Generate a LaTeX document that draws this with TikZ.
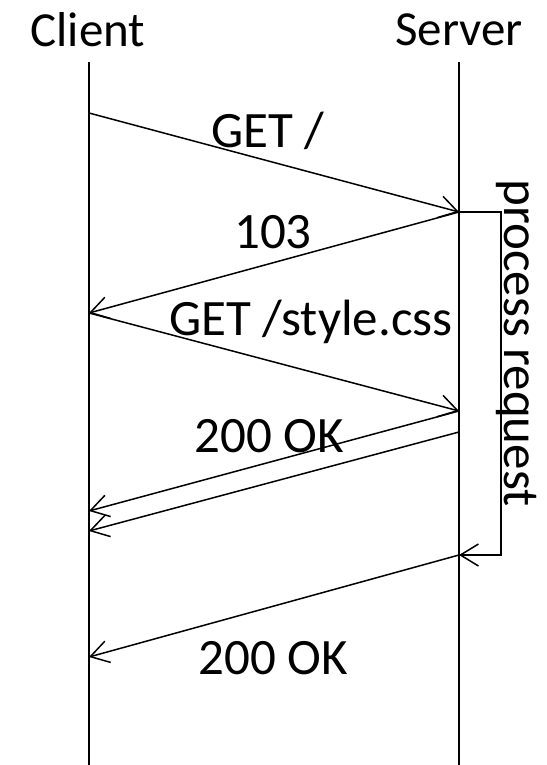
\documentclass[tikz,border=0pt]{standalone}
\usepackage{fontspec}
\setmainfont{Carlito}
\usetikzlibrary{arrows.meta}
\tikzstyle{party}=[
	font=\fontsize{49}{53}\selectfont,
	inner sep=0pt
]
\tikzstyle{msglabel}=[
	font=\fontsize{51}{55}\selectfont,
	inner sep=0pt
]
\tikzstyle{lifeline}=[
	line width=1.5pt
]
\tikzstyle{message}=[
	line width=1.5pt,
	-{Straight Barb[length=18pt,width=22pt,line width=1.5pt]}
]

\begin{document}
\begin{tikzpicture}[x=1pt,y=-1pt]
\useasboundingbox (0,0) rectangle (546,765);
% parties
\node [party] (Client) at (88,30) {Client};
\node [party] (Server) at (459,30) {Server};
% lifelines
\coordinate (ClientTop) at (89,62);
\coordinate (ClientEnd) at (89,765);
\coordinate (ServerTop) at (459,62);
\coordinate (ServerEnd) at (459,765);
\draw [lifeline] (ClientTop) -- (ClientEnd);
\draw [lifeline] (ServerTop) -- (ServerEnd);
% message points
\coordinate (GetSent) at (89,113);
\coordinate (GetRecv) at (459,212);
\coordinate (EarlyRecv) at (89,313);
\coordinate (CssRecv) at (459,411);
\coordinate (CssSent) at (459,432);
\coordinate (CssOk) at (89,511);
\coordinate (CssOkB) at (89,531);
\coordinate (Done) at (459,555);
\coordinate (PageOk) at (89,657);
% messages
\draw [message] (GetSent) -- (GetRecv);
\draw [message] (GetRecv) -- (EarlyRecv);
\draw [message] (EarlyRecv) -- (CssRecv);
\draw [message] (CssRecv) -- (CssOk);
\draw [message] (CssSent) -- (CssOkB);
\draw [message] (Done) -- (PageOk);
% processing
\draw [message] (GetRecv) -- ++(42,0) |- (Done);
% labels
\node [msglabel] (GetLabel) at (268,131) {GET /};
\node [msglabel] (EarlyLabel) at (273,232) {103};
\node [msglabel] (CssLabel) at (311,322) {GET /style.css};
\node [msglabel] (OkLabel) at (269,436) {200 OK};
\node [msglabel] (PageLabel) at (273,658) {200 OK};
\node [msglabel, rotate=-90] (ProcessLabel) at (517,343) {process request};
\end{tikzpicture}
\end{document}
